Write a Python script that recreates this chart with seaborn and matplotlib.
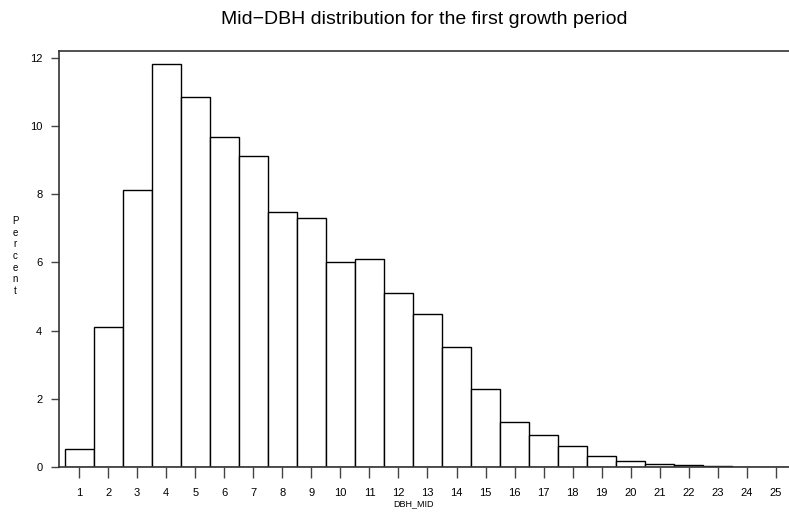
import matplotlib
matplotlib.use("Agg")
import matplotlib.pyplot as plt
import seaborn as sns
import pandas as pd

dbh_mid = list(range(1, 26))
percent = [0.53, 4.10, 8.12, 11.81, 10.86, 9.67, 9.11, 7.49, 7.30, 6.00,
           6.09, 5.10, 4.50, 3.51, 2.30, 1.32, 0.95, 0.62, 0.33, 0.18,
           0.08, 0.05, 0.02, 0.0, 0.0]
y_ticks = [0, 2, 4, 6, 8, 10, 12]
title = "Mid\u2212DBH distribution for the first growth period"

df = pd.DataFrame({"DBH_MID": dbh_mid, "Percent": percent})

sns.set_style("white")
plt.rcParams["font.family"] = ["Liberation Sans", "DejaVu Sans"]

fig = plt.figure(figsize=(7.89, 5.29), dpi=100)
ax = fig.add_axes([59/789, 62/529, (789-59)/789, 416/529])

sns.barplot(data=df, x="DBH_MID", y="Percent", color="white", saturation=1,
            edgecolor="black", linewidth=1.0, width=1.0, ax=ax)

ax.set_xlim(-0.69, 24.45)
ax.set_ylim(0, 12.2)
ax.set_yticks(y_ticks)
ax.set_yticklabels([str(v) for v in y_ticks], fontsize=8)
ax.tick_params(axis="x", labelsize=8, length=8, width=1, direction="out", pad=7,
               color="#444444", labelcolor="black")
ax.tick_params(axis="y", length=6, width=1, direction="out", pad=6,
               color="#444444", labelcolor="black")
ax.tick_params(bottom=True, left=True)

for s in ["left", "top", "bottom"]:
    ax.spines[s].set_visible(True)
    ax.spines[s].set_color("#333333")
    ax.spines[s].set_linewidth(1.2)
ax.spines["right"].set_visible(False)

ax.set_xlabel("")
ax.set_ylabel("")
fig.text(413/789, 1 - 504/529, "DBH_MID", fontsize=6.5, ha="center", va="center", color="black")
fig.text(15/789, 1 - 256/529, "\n".join("Percent"), fontsize=7, ha="center", va="center",
         linespacing=1.2, color="black")
fig.text(424/789, 1 - 19/529, title, fontsize=14, ha="center", va="center", color="black")

fig.savefig("out.png", dpi=100)
